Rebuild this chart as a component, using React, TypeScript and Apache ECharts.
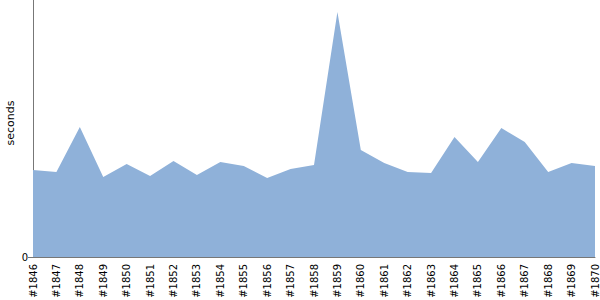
import React, { useEffect, useRef } from "react";
import * as echarts from "echarts";

const categories = [
  "#1846", "#1847", "#1848", "#1849", "#1850", "#1851", "#1852", "#1853", "#1854",
  "#1855", "#1856", "#1857", "#1858", "#1859", "#1860", "#1861", "#1862", "#1863",
  "#1864", "#1865", "#1866", "#1867", "#1868", "#1869", "#1870",
];
const seconds = [
  8.7, 8.5, 13.0, 8.0, 9.3, 8.1, 9.6, 8.2, 9.5, 9.1, 7.9, 8.8, 9.2, 24.5, 10.7, 9.4,
  8.5, 8.4, 12.0, 9.5, 12.9, 11.5, 8.5, 9.4, 9.1,
];
const yMax = 25.7;
const yName = "seconds";

export default function App() {
  const ref = useRef<HTMLDivElement>(null);
  useEffect(() => {
    const chart = echarts.init(ref.current!, null, { renderer: "svg" });
    chart.setOption({
      animation: false,
      grid: {
        left: 33,
        right: 5,
        top: 0,
        bottom: 43,
        containLabel: false,
        outerBoundsMode: "none",
      },
      graphic: [
        {
          type: "text",
          x: 10,
          y: 123,
          rotation: Math.PI / 2,
          style: {
            text: yName,
            fill: "#000",
            font: "11px 'DejaVu Sans'",
            align: "center",
            verticalAlign: "middle",
          },
        },
      ],
      xAxis: {
        type: "category",
        data: categories,
        boundaryGap: false,
        axisLine: { lineStyle: { color: "#777", width: 1 } },
        axisTick: { show: false },
        axisLabel: {
          rotate: 90,
          interval: 0,
          color: "#000",
          fontFamily: "DejaVu Sans",
          fontSize: 10,
          margin: 7,
        },
        splitLine: { show: false },
      },
      yAxis: {
        type: "value",
        min: 0,
        max: yMax,
        interval: yMax,
        axisLine: { show: true, lineStyle: { color: "#777", width: 1 } },
        axisTick: { show: true, length: 5, lineStyle: { color: "#777" } },
        axisLabel: {
          color: "#000",
          fontFamily: "DejaVu Sans",
          fontSize: 10,
          margin: 5,
          showMaxLabel: false,
          formatter: (v: number) => (v === 0 ? "0" : ""),
        },
        splitLine: { show: false },
      },
      series: [
        {
          type: "line",
          data: seconds,
          symbol: "none",
          lineStyle: { width: 0 },
          areaStyle: { color: "#8fb1d9", opacity: 1 },
        },
      ],
    });
    return () => chart.dispose();
  }, []);
  return (
    <div
      ref={ref}
      style={{ position: "absolute", left: 0, top: 0, width: 600, height: 300 }}
    />
  );
}
